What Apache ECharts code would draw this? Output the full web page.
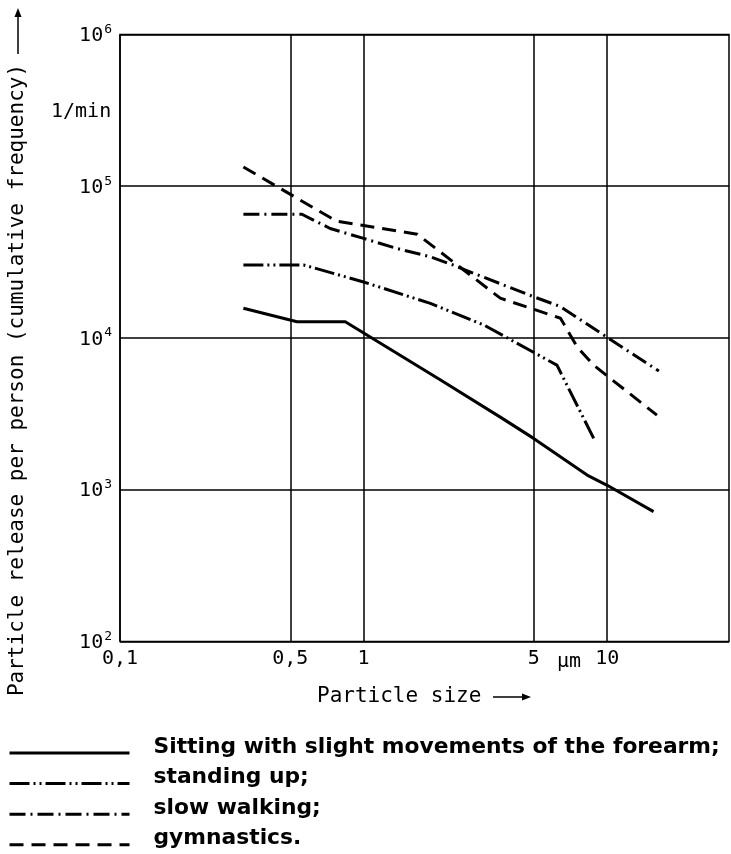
<!DOCTYPE html>
<html>
<head>
<meta charset="utf-8">
<script src="https://cdn.jsdelivr.net/npm/echarts@6/dist/echarts.min.js"></script>
<style>
  html, body { margin: 0; padding: 0; background: #fff; }
  #chart { width: 731px; height: 854px; }
</style>
</head>
<body>
<div id="chart"></div>
<script>
// Particle size in µm, release per person in particles per minute (cumulative)
const sittingSize    = [0.321, 0.533, 0.841, 2.07, 3.64, 4.99, 8.27, 10, 15.5];
const sittingRelease = [15700, 12800, 12800, 5290, 3010, 2180, 1250, 1070, 717];

const standingSize    = [0.321, 0.567, 1.0, 1.88, 3.11, 6.22, 8.8];
const standingRelease = [30300, 30300, 23400, 16900, 12200, 6620, 2180];

const walkingSize    = [0.321, 0.558, 0.729, 1.0, 1.37, 1.88, 2.34, 2.83, 4.99, 6.43, 10, 16.3];
const walkingRelease = [65400, 65400, 52700, 45300, 38900, 34300, 30200, 26700, 18700, 16100, 10100, 6050];

const gymSize    = [0.321, 0.773, 1.66, 3.64, 6.43, 7.52, 8.8, 16.0];
const gymRelease = [134000, 58900, 48300, 18300, 13500, 8750, 6620, 3100];

const seriesNames = [
  'Sitting with slight movements of the forearm;',
  'standing up;',
  'slow walking;',
  'gymnastics.'
];

// Vertical reference lines on the size axis and their labels
const sizeTicks = [0.1, 0.5, 1, 5, 10];
const sizeTickLabels = ['0,1', '0,5', '1', '5', '10'];

const MONO = '"DejaVu Sans Mono", monospace';
const pairs = (xs, ys) => xs.map((x, i) => [x, ys[i]]);

function curve(name, xs, ys, dash) {
  return {
    name: name,
    type: 'line',
    data: pairs(xs, ys),
    symbol: 'none',
    silent: true,
    z: 3,
    itemStyle: { color: '#000' },
    lineStyle: { color: '#000', width: 3, type: dash, cap: 'butt' }
  };
}

// Arrow drawn next to an axis title: shaft plus a small filled head
function arrow(x1, y1, x2, y2) {
  const ang = Math.atan2(y2 - y1, x2 - x1);
  const len = 9, half = 3.5;
  const bx = x2 - len * Math.cos(ang), by = y2 - len * Math.sin(ang);
  const px = -Math.sin(ang) * half, py = Math.cos(ang) * half;
  return [
    { type: 'line', shape: { x1: x1, y1: y1, x2: bx, y2: by }, style: { stroke: '#000', lineWidth: 1.5 } },
    { type: 'polygon', shape: { points: [[x2, y2], [bx + px, by + py], [bx - px, by - py]] }, style: { fill: '#000' } }
  ];
}

const chart = echarts.init(document.getElementById('chart'));

const sitting = curve(seriesNames[0], sittingSize, sittingRelease, 'solid');
sitting.markLine = {
  silent: true,
  symbol: 'none',
  animation: false,
  z: 1,
  lineStyle: { color: '#000', width: 1.5, type: 'solid' },
  label: {
    position: 'start',
    distance: 7,
    color: '#000',
    fontFamily: MONO,
    fontSize: 20
  },
  data: sizeTicks.map((v, i) => ({ xAxis: v, label: { formatter: sizeTickLabels[i] } }))
};

chart.setOption({
  animation: false,
  backgroundColor: '#fff',
  grid: {
    left: 120, right: 2, top: 34.5, bottom: 212.5,
    show: true, borderColor: '#000', borderWidth: 1.5
  },
  xAxis: {
    type: 'log', logBase: 10, min: 0.1, max: Math.pow(10, 1.5),
    axisLine: { show: false }, axisTick: { show: false },
    axisLabel: { show: false }, splitLine: { show: false }
  },
  yAxis: {
    type: 'log', logBase: 10, min: 100, max: 1e6,
    axisLine: { show: false }, axisTick: { show: false },
    splitLine: { show: true, lineStyle: { color: '#000', width: 1.5 } },
    axisLabel: {
      margin: 8,
      color: '#000',
      formatter: v => '{b|10}{s|' + Math.round(Math.log10(v)) + '}',
      rich: {
        b: { fontFamily: MONO, fontSize: 20, color: '#000', verticalAlign: 'bottom' },
        s: { fontFamily: MONO, fontSize: 13, color: '#000', verticalAlign: 'bottom', padding: [0, 0, 10, 1] }
      }
    }
  },
  legend: {
    data: seriesNames,
    orient: 'vertical',
    left: 8,
    top: 736,
    height: 150,
    padding: 0,
    itemWidth: 120,
    itemHeight: 14,
    itemGap: 1.1,
    selectedMode: false,
    itemStyle: { opacity: 0 },
    lineStyle: { width: 3, opacity: 1 },
    // the name sits on the upper line so that the sample line meets its baseline
    formatter: '{t|{name}}\n{sp| }',
    textStyle: {
      color: '#000',
      padding: [0, 0, 0, 19],
      rich: {
        t: {
          fontFamily: '"DejaVu Sans", sans-serif',
          fontWeight: 'bold',
          fontSize: 21.8,
          lineHeight: 24,
          color: '#000'
        },
        sp: { fontSize: 1, lineHeight: 12 }
      }
    }
  },
  graphic: [
    {
      type: 'text', x: 18, y: 380, rotation: Math.PI / 2,
      style: {
        text: 'Particle release per person (cumulative frequency)',
        fontFamily: MONO, fontSize: 21, fill: '#000',
        align: 'center', verticalAlign: 'middle'
      }
    },
    ...arrow(18, 54, 18, 8),
    {
      type: 'text', x: 51, y: 112,
      style: { text: '1/min', fontFamily: MONO, fontSize: 20, fill: '#000', align: 'left', verticalAlign: 'middle' }
    },
    {
      type: 'text', x: 569, y: 662,
      style: { text: '\u00B5m', fontFamily: MONO, fontSize: 20, fill: '#000', align: 'center', verticalAlign: 'middle' }
    },
    {
      type: 'text', x: 317, y: 697,
      style: { text: 'Particle size', fontFamily: MONO, fontSize: 21, fill: '#000', align: 'left', verticalAlign: 'middle' }
    },
    ...arrow(493, 697, 531, 697)
  ],
  series: [
    sitting,
    curve(seriesNames[1], standingSize, standingRelease, [20, 4, 2, 4, 2, 4]),
    curve(seriesNames[2], walkingSize, walkingRelease, [16, 5, 2, 5]),
    curve(seriesNames[3], gymSize, gymRelease, [14, 8])
  ]
});
</script>
</body>
</html>
